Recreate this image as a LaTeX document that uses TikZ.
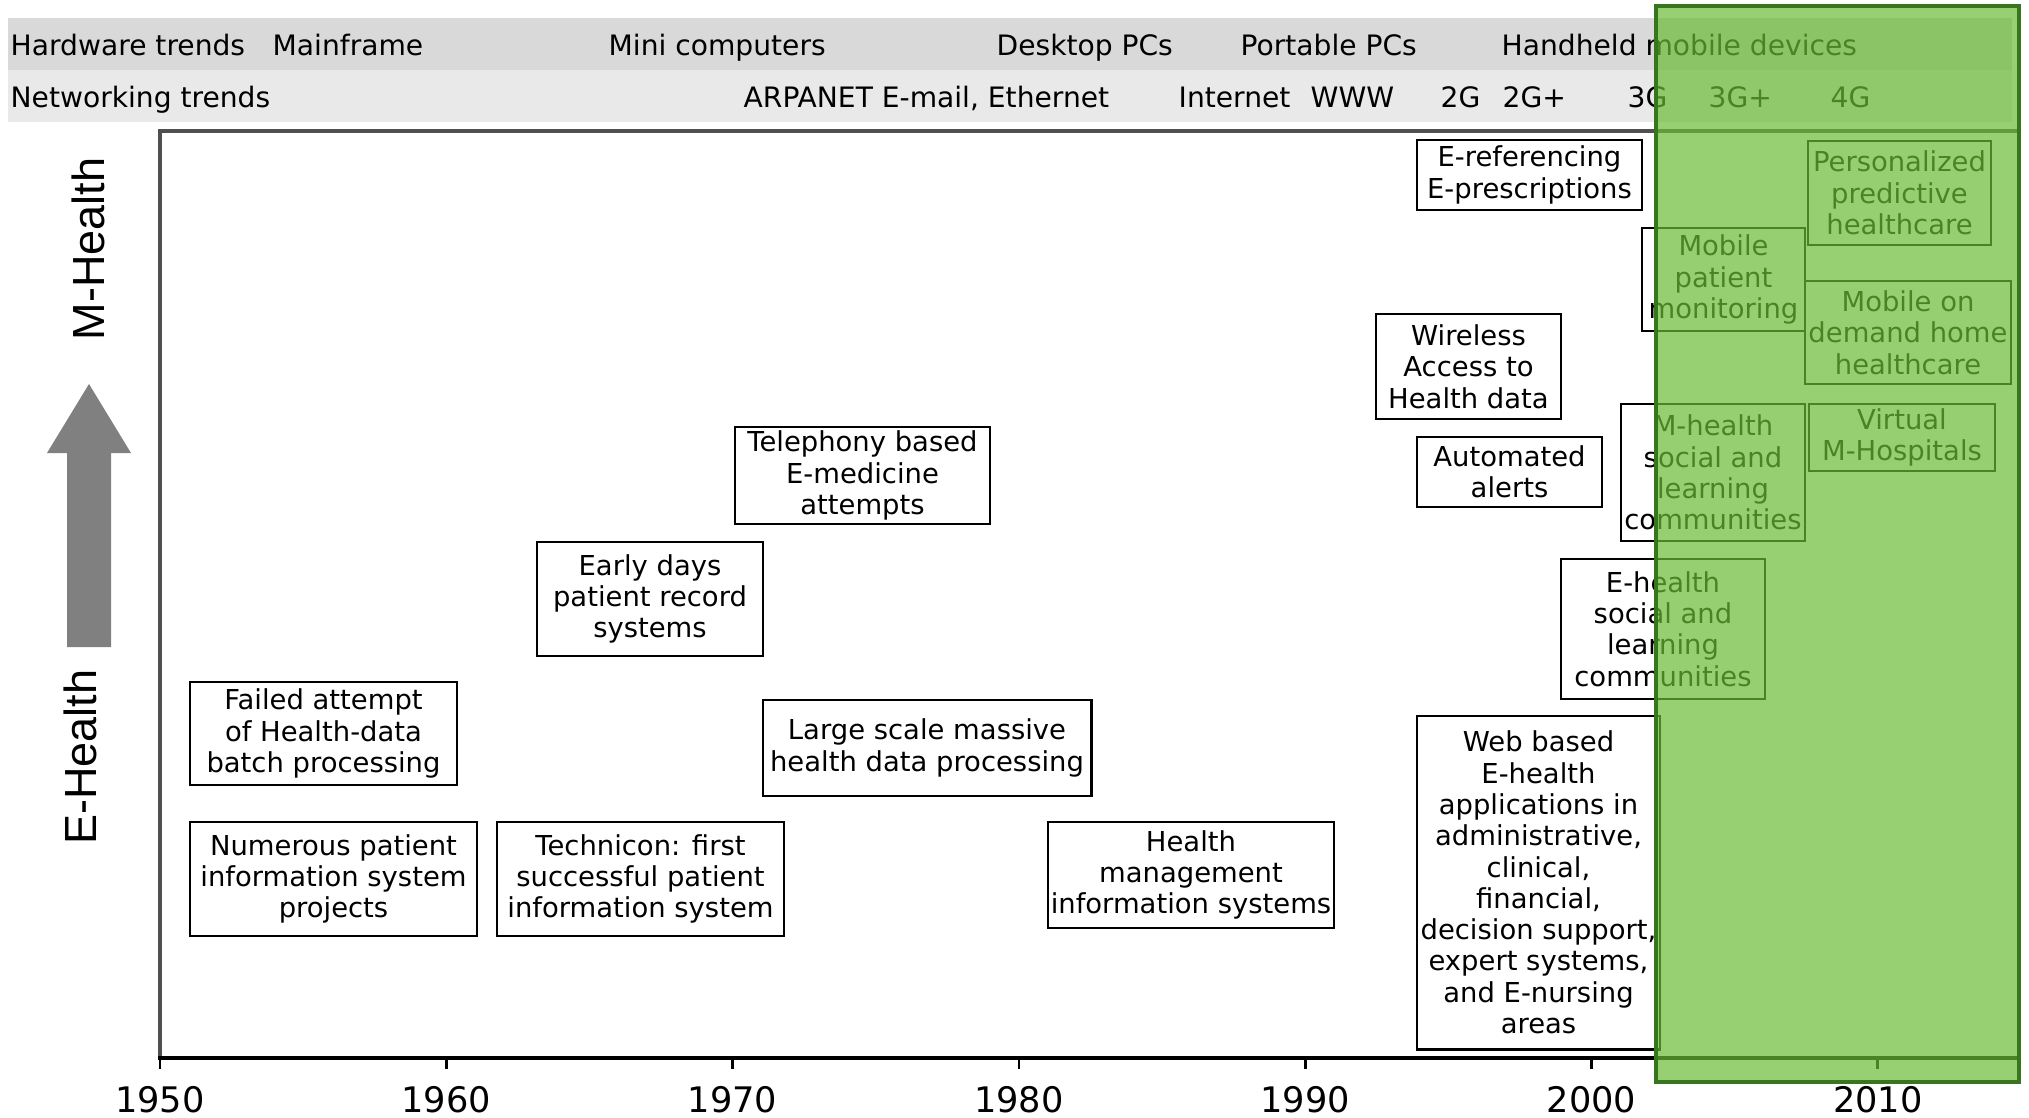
\documentclass[tikz,border=0pt]{standalone}
\usepackage{fontspec}
\setmainfont{DejaVu Sans}
\newfontfamily\arialfont{Liberation Sans}
\definecolor{bandone}{RGB}{217,217,217}
\definecolor{bandtwo}{RGB}{233,233,233}
\definecolor{leafgreen}{RGB}{105,188,55}
\definecolor{darkleaf}{RGB}{56,118,29}
\definecolor{arrowgray}{RGB}{128,128,128}
\definecolor{framegray}{RGB}{80,80,80}
\begin{document}
\begin{tikzpicture}[x=0.01cm, y=-0.01cm,
  box/.style={draw=black, line width=0.8pt, fill=white, inner sep=0pt, align=center, font=\fontsize{7.8}{8.9}\selectfont},
  trend/.style={anchor=base west, inner sep=0pt, font=\fontsize{8}{9}\selectfont},
  year/.style={inner sep=0pt, font=\fontsize{10}{12}\selectfont},
  side/.style={inner sep=0pt, rotate=90, font=\arialfont\fontsize{12.8}{14}\selectfont}]
\useasboundingbox (0,0) rectangle (2029,1118);
% trend bands
\fill[bandone] (8,18) rectangle (2012,70);
\fill[bandtwo] (8,70) rectangle (2012,122);
\node[trend] (hw) at (10,55){Hardware trends};
\node[trend] (hw1) at (272,55){Mainframe};
\node[trend] (hw2) at (608,55){Mini computers};
\node[trend] (hw3) at (996,55){Desktop PCs};
\node[trend] (hw4) at (1240,55){Portable PCs};
\node[trend] (hw5) at (1501,55){Handheld mobile devices};
\node[trend] (net) at (10,107){Networking trends};
\node[trend] (net1) at (743,107){ARPANET E-mail, Ethernet};
\node[trend] (net2) at (1178,107){Internet};
\node[trend] (net3) at (1310,107){WWW};
\node[trend] (net4) at (1440,107){2G};
\node[trend] (net5) at (1502,107){2G+};
\node[trend] (net6) at (1627,107){3G};
\node[trend] (net7) at (1708,107){3G+};
\node[trend] (net8) at (1830,107){4G};
% frame and time axis
\draw[framegray, line width=1.1pt] (160,1058) -- (160,131) -- (2019,131);
\draw[black, line width=0.9pt] (158,1058) -- (2019,1058);
\foreach \yr [evaluate=\yr as \xp using {160+(\yr-1950)*28.63}] in {1950,1960,...,2010}{
  \draw[line width=0.8pt] (\xp,1058) -- (\xp,1069);
  \node[year] (y\yr) at (\xp,1100){\yr};
}
% E-Health to M-Health arrow
\fill[arrowgray] (67,647) -- (67,453) -- (47,453) -- (89,384) -- (131,453) -- (111,453) -- (111,647) -- cycle;
\node[side] (mh) at (88,249){M-Health};
\node[side] (eh) at (80,757){E-Health};
% milestones
\node[box, minimum width=2.25cm, minimum height=0.70cm] (eref) at (1529.5,175){E-referencing\\E-prescriptions};
\node[box, minimum width=1.83cm, minimum height=1.04cm] (perso) at (1899.5,193){Personalized\\predictive\\healthcare};
\node[box, minimum width=1.63cm, minimum height=1.03cm] (mobmon) at (1723.5,279.5){Mobile\\patient\\monitoring};
\node[box, minimum width=2.06cm, minimum height=1.03cm] (mobhome) at (1908,332.5){Mobile on\\demand home\\healthcare};
\node[box, minimum width=1.85cm, minimum height=1.05cm] (wireless) at (1468.5,366.5){Wireless\\Access to\\Health data};
\node[box, minimum width=1.86cm, minimum height=0.67cm] (virtual) at (1902,437.5){Virtual\\M-Hospitals};
\node[box, minimum width=1.84cm, minimum height=1.37cm] (msocial) at (1713,472.5){M-health\\social and\\learning\\communities};
\node[box, minimum width=1.85cm, minimum height=0.70cm] (alerts) at (1509.5,472){Automated\\alerts};
\node[box, minimum width=2.55cm, minimum height=0.97cm] (teleph) at (862.5,475.5){Telephony based\\E-medicine\\attempts};
\node[box, minimum width=2.26cm, minimum height=1.14cm] (early) at (650,599){Early days\\patient record\\systems};
\node[box, minimum width=2.04cm, minimum height=1.40cm] (esocial) at (1663,629){E-health\\social and\\learning\\communities};
\node[box, minimum width=2.67cm, minimum height=1.03cm] (failed) at (323.5,733.5){Failed attempt\\of Health-data\\batch processing};
\node[box, minimum width=3.28cm, minimum height=0.96cm] (large) at (927,748){Large scale massive\\health data processing};
\node[box, minimum width=2.43cm, minimum height=3.33cm] (web) at (1538.5,882.5){Web based\\E-health\\applications in\\administrative,\\clinical,\\financial,\\decision support,\\expert systems,\\and E-nursing\\areas};
\node[box, minimum width=2.87cm, minimum height=1.14cm] (numerous) at (333.5,879){Numerous patient\\information system\\projects};
\node[box, minimum width=2.87cm, minimum height=1.14cm] (technicon) at (640.5,879){Technicon: first\\successful patient\\information system};
\node[box, minimum width=2.86cm, minimum height=1.06cm] (hmis) at (1191,875){Health\\management\\information systems};
% mobile era overlay
\draw[darkleaf, line width=1.4pt, fill=leafgreen, fill opacity=0.7] (1656,6) rectangle (2019,1082);
\end{tikzpicture}
\end{document}
